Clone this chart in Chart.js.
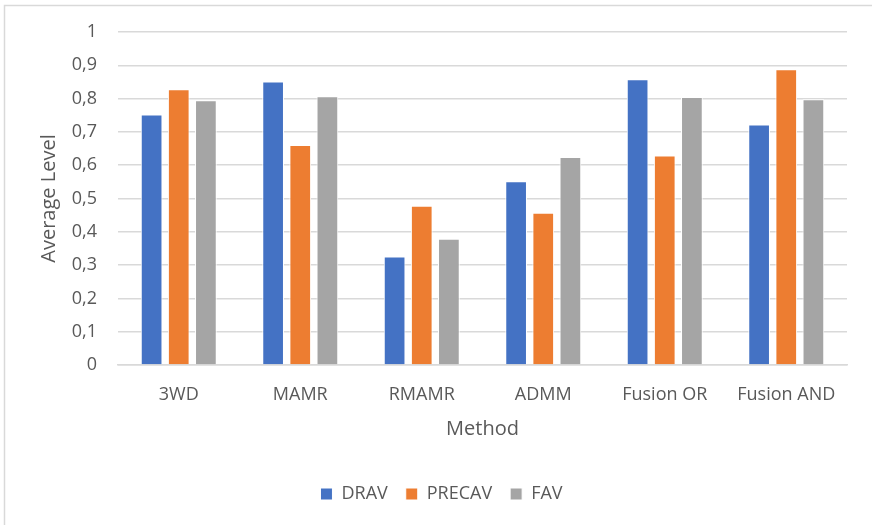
<!DOCTYPE html>
<html>
<head>
<meta charset="utf-8">
<script src="https://cdn.jsdelivr.net/npm/chart.js@4"></script>
<style>
  html, body { margin: 0; padding: 0; background: #fff; }
  #wrap { width: 872px; height: 525px; position: relative; }
</style>
</head>
<body>
<div id="wrap"><canvas id="myChart" width="872" height="525"></canvas></div>
<script>
const htmlChart = document.getElementById('myChart');

// data
const methods = ['3WD', 'MAMR', 'RMAMR', 'ADMM', 'Fusion OR', 'Fusion AND'];
const drav = [0.752, 0.851, 0.326, 0.552, 0.858, 0.722];
const precav = [0.828, 0.661, 0.478, 0.457, 0.629, 0.888];
const fav = [0.795, 0.807, 0.379, 0.625, 0.805, 0.798];

const textColor = '#595959';
const fontName = "'Open Sans', sans-serif";

// thin grey frame like the excel chart area
const frame = {
  id: 'frame',
  afterDraw(chart) {
    const ctx = chart.ctx;
    ctx.save();
    ctx.strokeStyle = '#d9d9d9';
    ctx.lineWidth = 1.5;
    ctx.beginPath();
    ctx.moveTo(4.5, 525);
    ctx.lineTo(4.5, 5.5);
    ctx.lineTo(872, 5.5);
    ctx.stroke();
    ctx.restore();
  }
};

// nudge the legend a bit right and up, like in excel
const flyttLegend = {
  id: 'flyttLegend',
  afterLayout(chart) {
    const lg = chart.legend;
    if (!lg) return;
    lg.left += 18;
    lg.right += 18;
    lg.top -= 8;
    lg.bottom -= 8;
  }
};

function serie(label, data, color) {
  return {
    label: label,
    data: data,
    backgroundColor: color,
    borderColor: '#ffffff',
    borderWidth: 1,
    categoryPercentage: 0.67,
    barPercentage: 0.8,
  };
}

const config = {
  type: 'bar',
  data: {
    labels: methods,
    datasets: [
      serie('DRAV', drav, '#4472C4'),
      serie('PRECAV', precav, '#ED7D31'),
      serie('FAV', fav, '#A5A5A5'),
    ],
  },
  options: {
    responsive: false,
    animation: false,
    layout: { padding: { top: 32, right: 25, bottom: 4, left: 0 } },
    plugins: {
      tooltip: { enabled: false },
      legend: {
        position: 'bottom',
        labels: {
          color: textColor,
          font: { family: fontName, size: 18 },
          boxWidth: 12,
          boxHeight: 12,
          padding: 18,
        }
      }
    },
    scales: {
      x: {
        grid: { display: false },
        border: { display: true, color: '#d9d9d9', width: 1.5 },
        ticks: { color: textColor, font: { family: fontName, size: 18 }, padding: 11, maxRotation: 0 },
        title: {
          display: true,
          text: 'Method',
          color: textColor,
          font: { family: fontName, size: 20 },
          padding: { top: 4, bottom: 34 },
        },
        afterFit(scale) { scale.height = 110; }
      },
      y: {
        min: 0,
        max: 1,
        ticks: {
          stepSize: 0.1,
          color: textColor,
          font: { family: fontName, size: 18 },
          padding: 21,
          callback: v => (Math.round(v * 10) / 10).toString().replace('.', ','),
        },
        grid: { color: '#d9d9d9', lineWidth: 1.5, drawTicks: false },
        border: { display: false },
        title: {
          display: true,
          text: 'Average Level',
          color: textColor,
          font: { family: fontName, size: 20 },
          padding: { top: 37, bottom: 0 },
        },
        afterFit(scale) { scale.width = 118; }
      }
    }
  },
  plugins: [frame, flyttLegend]
};

new Chart(htmlChart, config);
</script>
</body>
</html>
